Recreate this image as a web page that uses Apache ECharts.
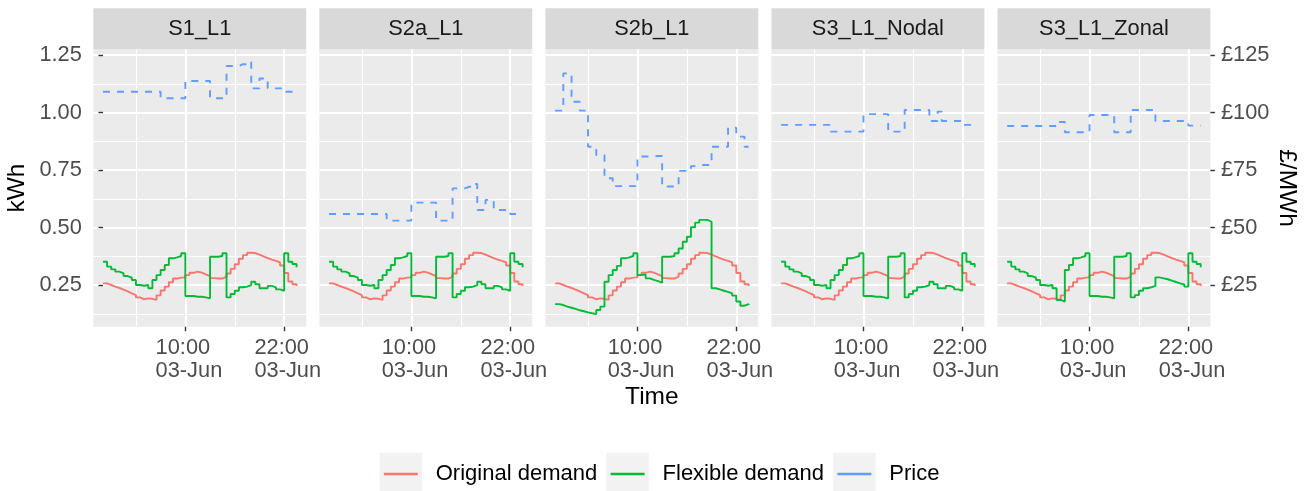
<!DOCTYPE html>
<html>
<head>
<meta charset="utf-8">
<title>Original vs flexible demand and price</title>
<script src="https://cdn.jsdelivr.net/npm/echarts@6/dist/echarts.min.js"></script>
<style>
  html, body { margin: 0; padding: 0; background: #ffffff; }
  #chart { width: 1314px; height: 491px; }
</style>
</head>
<body>
<div id="chart"></div>
<script>
// ---- data -------------------------------------------------------------
const panels = ['S1_L1', 'S2a_L1', 'S2b_L1', 'S3_L1_Nodal', 'S3_L1_Zonal'];

const times = ['00:00','00:30','01:00','01:30','02:00','02:30','03:00','03:30',
  '04:00','04:30','05:00','05:30','06:00','06:30','07:00','07:30',
  '08:00','08:30','09:00','09:30','10:00','10:30','11:00','11:30',
  '12:00','12:30','13:00','13:30','14:00','14:30','15:00','15:30',
  '16:00','16:30','17:00','17:30','18:00','18:30','19:00','19:30',
  '20:00','20:30','21:00','21:30','22:00','22:30','23:00','23:30'];
const dateLabel = '03-Jun';

const timeTicks = ['10:00', '22:00'];
const timeMinorTicks = ['04:00', '16:00'];
const kwhTicks = [0.25, 0.5, 0.75, 1.0, 1.25];
const kwhMinorTicks = [0.125, 0.375, 0.625, 0.875, 1.125];
const priceTicks = [25, 50, 75, 100, 125];

// kWh per half hour, same household in every scenario
const originalDemand = [0.257,0.250,0.243,0.237,0.230,0.222,0.214,0.206,0.196,0.188,
  0.192,0.190,0.185,0.205,0.226,0.243,0.262,0.278,0.282,0.283,
  0.293,0.303,0.308,0.304,0.296,0.289,0.280,0.278,0.278,0.286,
  0.300,0.320,0.340,0.364,0.380,0.390,0.389,0.382,0.374,0.367,
  0.360,0.355,0.348,0.335,0.302,0.265,0.253,0.246];

// kWh per half hour after shifting load
const flexS1 = [0.351,0.330,0.318,0.308,0.301,0.289,0.282,0.272,0.250,0.247,
  0.250,0.236,0.272,0.293,0.315,0.337,0.366,0.370,0.376,0.388,
  0.202,0.202,0.199,0.199,0.196,0.192,0.373,0.373,0.376,0.388,
  0.196,0.211,0.225,0.240,0.243,0.250,0.264,0.253,0.236,0.236,
  0.246,0.240,0.231,0.225,0.388,0.351,0.341,0.327];
const flexS2a = [0.351,0.330,0.318,0.308,0.301,0.289,0.282,0.272,0.250,0.247,
  0.250,0.236,0.272,0.293,0.315,0.337,0.366,0.370,0.376,0.388,
  0.202,0.202,0.199,0.199,0.196,0.192,0.373,0.373,0.376,0.388,
  0.196,0.211,0.225,0.240,0.243,0.250,0.264,0.253,0.236,0.236,
  0.246,0.240,0.231,0.225,0.388,0.351,0.341,0.327];
const flexS2b = [0.167,0.163,0.156,0.151,0.146,0.140,0.136,0.131,0.127,0.1235,
  0.141,0.156,0.264,0.293,0.315,0.333,0.366,0.370,0.376,0.388,
  0.293,0.296,0.279,0.272,0.267,0.260,0.373,0.373,0.376,0.388,
  0.409,0.438,0.460,0.501,0.521,0.533,0.533,0.525,0.236,0.231,
  0.225,0.220,0.214,0.204,0.178,0.160,0.167,0.163];
const flexS3Nodal = [0.351,0.330,0.318,0.308,0.301,0.289,0.282,0.272,0.250,0.247,
  0.250,0.236,0.272,0.293,0.315,0.337,0.366,0.370,0.376,0.388,
  0.202,0.202,0.199,0.199,0.196,0.192,0.373,0.373,0.376,0.388,
  0.196,0.211,0.225,0.240,0.243,0.250,0.264,0.253,0.236,0.236,
  0.246,0.240,0.231,0.225,0.388,0.351,0.341,0.327];
const flexS3Zonal = [0.351,0.330,0.318,0.308,0.301,0.289,0.282,0.272,0.250,0.247,
  0.250,0.236,0.185,0.178,0.315,0.337,0.366,0.370,0.376,0.388,
  0.202,0.202,0.199,0.199,0.196,0.192,0.373,0.373,0.376,0.388,
  0.196,0.206,0.225,0.236,0.240,0.246,0.283,0.279,0.275,0.269,
  0.263,0.257,0.253,0.243,0.388,0.351,0.341,0.327];

// £/MWh per half hour
const priceS1 = [109.0,109.0,109.0,109.0,109.0,109.0,109.0,109.0,109.0,109.0,
  109.0,109.0,109.0,109.0,106.2,106.2,106.2,106.2,106.2,106.2,
  113.7,113.7,113.7,113.7,113.7,113.7,106.2,106.2,106.2,106.2,
  120.2,120.2,120.2,121.0,121.0,122.0,110.5,110.5,114.8,114.8,
  110.5,110.5,110.5,110.5,109.0,109.0,109.0,109.0];
const priceS2a = [55.9,55.9,55.9,55.9,55.9,55.9,55.9,55.9,55.9,55.9,
  55.9,55.9,55.9,55.9,53.0,53.0,53.0,53.0,53.0,53.0,
  60.8,60.8,60.8,60.8,60.8,60.8,53.0,53.0,53.0,53.0,
  67.0,67.0,67.0,67.7,67.7,68.9,57.6,57.6,62.0,62.0,
  57.6,57.6,57.6,57.6,55.9,55.9,55.9,55.9];
const priceS2b = [100.8,100.8,117.0,117.0,104.7,104.7,100.8,100.8,85.1,85.1,
  81.5,81.5,71.4,71.4,68.0,68.0,68.0,68.0,68.0,68.0,
  80.9,80.9,80.9,80.9,81.1,81.1,67.8,67.8,67.8,67.8,
  74.6,74.6,74.6,76.7,76.7,77.2,77.2,77.2,85.1,85.1,
  85.1,85.1,93.4,93.4,89.5,89.5,85.1,85.1];
const priceS3Nodal = [94.6,94.6,94.6,94.6,94.6,94.6,94.6,94.6,94.6,94.6,
  94.6,94.6,91.7,91.7,91.7,91.7,91.7,91.7,91.7,91.7,
  99.3,99.3,99.3,99.3,99.3,99.3,91.7,91.7,91.7,91.7,
  101.1,101.1,101.1,101.1,101.1,101.1,96.3,96.3,100.4,96.3,
  96.3,96.3,96.3,96.3,94.6,94.6,94.6,94.6];
const priceS3Zonal = [94.1,94.1,94.1,94.1,94.1,94.1,94.1,94.1,94.1,94.1,
  94.1,94.1,95.9,95.9,91.4,91.4,91.4,91.4,91.4,91.4,
  98.9,98.9,98.9,98.9,98.9,98.9,91.4,91.4,91.4,91.4,
  101.1,101.1,101.1,101.1,101.1,101.1,96.3,96.3,96.3,96.3,
  96.3,96.3,96.3,96.3,94.3,94.3,94.3,94.3];

const flexible = [flexS1, flexS2a, flexS2b, flexS3Nodal, flexS3Zonal];
const prices = [priceS1, priceS2a, priceS2b, priceS3Nodal, priceS3Zonal];

// ---- layout & style ---------------------------------------------------
const FONT = '"Liberation Sans", Arial, Helvetica, sans-serif';
const SMALL = 21.8;    // tick labels, strip labels, legend text
const TITLE = 24.5;    // axis titles
const COL_ORIG = '#F8766D', COL_FLEX = '#00BA38', COL_PRICE = '#619CFF';
const PANEL_LEFT = 93.3, PANEL_STEP = 226.05, PANEL_W = 212.9;
const PANEL_TOP = 49.3, PANEL_H = 277.4;
const STRIP_TOP = 8.3, STRIP_H = 41;
const X_MIN = -1.175, X_MAX = 24.675;       // hours, padded around the day
const KWH_MIN = 0.0687, KWH_MAX = 1.2748;   // padded kWh range
const PRICE_PER_KWH = 100;                  // secondary axis: £/MWh = kWh x 100

const toHours = t => { const [h, m] = t.split(':').map(Number); return h + m / 60; };
const hours = times.map(toHours);
const pad2 = n => String(n).padStart(2, '0');
const hhmm = h => pad2(Math.floor(h + 1e-9)) + ':' + pad2(Math.round((h - Math.floor(h + 1e-9)) * 60));
const pairs = arr => arr.map((v, k) => [hours[k], v]);

const grids = [], xAxes = [], yAxes = [], series = [], graphics = [];

panels.forEach((name, i) => {
  const left = PANEL_LEFT + i * PANEL_STEP;
  const box = { left: left, top: PANEL_TOP, width: PANEL_W, height: PANEL_H };
  // back grid: panel background and minor grid lines
  grids.push(Object.assign({ show: true, backgroundColor: '#EBEBEB', borderWidth: 0 }, box));
  // front grid: major grid lines, axes and lines
  grids.push(Object.assign({ show: false }, box));
});

// axes for back grids (indices 0..4)
panels.forEach((name, i) => {
  xAxes[i] = {
    type: 'value', gridIndex: 2 * i, min: X_MIN, max: X_MAX, z: 0,
    axisLine: { show: false },
    axisTick: { show: false, customValues: timeMinorTicks.map(toHours) },
    axisLabel: { show: false, customValues: timeMinorTicks.map(toHours) },
    splitLine: { show: true, lineStyle: { color: '#FFFFFF', width: 1.05 } }
  };
  yAxes[i] = {
    type: 'value', gridIndex: 2 * i, min: KWH_MIN, max: KWH_MAX, z: 0,
    axisLine: { show: false },
    axisTick: { show: false, customValues: kwhMinorTicks },
    axisLabel: { show: false, customValues: kwhMinorTicks },
    splitLine: { show: true, lineStyle: { color: '#FFFFFF', width: 1.05 } }
  };
});

// axes, lines and strips for front grids
panels.forEach((name, i) => {
  const gi = 2 * i + 1;
  xAxes[5 + i] = {
    type: 'value', gridIndex: gi, min: X_MIN, max: X_MAX, z: 1,
    axisLine: { show: false },
    axisTick: { show: true, length: 4.5, customValues: timeTicks.map(toHours),
      lineStyle: { color: '#333333', width: 1.4 } },
    axisLabel: {
      show: true, customValues: timeTicks.map(toHours), margin: 10.5,
      color: '#4D4D4D', fontSize: SMALL, fontFamily: FONT, lineHeight: 22.3,
      padding: [0, 0, 0, 7.2],
      formatter: v => hhmm(v) + '  \n' + dateLabel
    },
    splitLine: { show: true, lineStyle: { color: '#FFFFFF', width: 2.1 } }
  };
  yAxes[5 + i] = {
    type: 'value', gridIndex: gi, position: 'left', min: KWH_MIN, max: KWH_MAX, z: 1,
    axisLine: { show: false },
    axisTick: { show: i === 0, length: 4.5, customValues: kwhTicks,
      lineStyle: { color: '#333333', width: 1.4 } },
    axisLabel: {
      show: i === 0, customValues: kwhTicks, margin: 11.5,
      color: '#4D4D4D', fontSize: SMALL, fontFamily: FONT,
      formatter: v => v.toFixed(2)
    },
    splitLine: { show: true, lineStyle: { color: '#FFFFFF', width: 2.1 } }
  };
  yAxes[10 + i] = {
    type: 'value', gridIndex: gi, position: 'right',
    min: KWH_MIN * PRICE_PER_KWH, max: KWH_MAX * PRICE_PER_KWH, z: 1,
    axisLine: { show: false },
    axisTick: { show: i === 4, length: 4.5, customValues: priceTicks,
      lineStyle: { color: '#333333', width: 1.4 } },
    axisLabel: {
      show: i === 4, customValues: priceTicks, margin: 10.5,
      color: '#4D4D4D', fontSize: SMALL, fontFamily: FONT,
      formatter: v => '£' + v
    },
    splitLine: { show: false }
  };

  const common = { type: 'line', step: 'end', showSymbol: false, symbol: 'none',
    xAxisIndex: 5 + i, silent: true, emphasis: { disabled: true } };
  series.push(Object.assign({}, common, {
    name: 'Original demand', yAxisIndex: 5 + i, color: COL_ORIG,
    lineStyle: { color: COL_ORIG, width: 1.9 }, data: pairs(originalDemand)
  }));
  series.push(Object.assign({}, common, {
    name: 'Flexible demand', yAxisIndex: 5 + i, color: COL_FLEX,
    lineStyle: { color: COL_FLEX, width: 1.9 }, data: pairs(flexible[i])
  }));
  series.push(Object.assign({}, common, {
    name: 'Price', yAxisIndex: 10 + i, color: COL_PRICE,
    lineStyle: { color: COL_PRICE, width: 1.9, type: [7, 7] }, data: pairs(prices[i])
  }));

  // facet strip
  const left = PANEL_LEFT + i * PANEL_STEP;
  graphics.push({ type: 'rect', silent: true, z: 0,
    shape: { x: left, y: STRIP_TOP, width: PANEL_W, height: STRIP_H },
    style: { fill: '#D9D9D9' } });
  graphics.push({ type: 'text', silent: true, z: 1,
    x: left + PANEL_W / 2, y: STRIP_TOP + STRIP_H / 2 + 0.5,
    style: { text: name, fill: '#1A1A1A', font: SMALL + 'px ' + FONT,
      textAlign: 'center', textVerticalAlign: 'middle' } });
});

// axis titles
const plotMidY = PANEL_TOP + PANEL_H / 2;
const plotMidX = (PANEL_LEFT + PANEL_LEFT + 4 * PANEL_STEP + PANEL_W) / 2;
graphics.push({ type: 'text', silent: true, x: 17, y: plotMidY, rotation: Math.PI / 2,
  style: { text: 'kWh', fill: '#000000', font: TITLE + 'px ' + FONT,
    textAlign: 'center', textVerticalAlign: 'middle' } });
graphics.push({ type: 'text', silent: true, x: 1287, y: plotMidY, rotation: -Math.PI / 2,
  style: { text: '£/MWh', fill: '#000000', font: TITLE + 'px ' + FONT,
    textAlign: 'center', textVerticalAlign: 'middle' } });
graphics.push({ type: 'text', silent: true, x: plotMidX, y: 397,
  style: { text: 'Time', fill: '#000000', font: TITLE + 'px ' + FONT,
    textAlign: 'center', textVerticalAlign: 'middle' } });

// legend keys: grey squares behind each legend line
const legendNames = ['Original demand', 'Flexible demand', 'Price'];
const legendKeyLeft = [379.6, 606.4, 833.2];
const KEY = 42.4, LEGEND_MID = 474;
legendKeyLeft.forEach(x => {
  graphics.push({ type: 'rect', silent: true, z: 0,
    shape: { x: x, y: LEGEND_MID - KEY / 2, width: KEY, height: KEY },
    style: { fill: '#F2F2F2' } });
});

const legends = legendNames.map((n, k) => ({
  data: [n], left: legendKeyLeft[k] + KEY * 0.1, top: LEGEND_MID - 13,
  orient: 'horizontal', padding: 0, icon: 'rect',
  itemWidth: KEY * 0.8, itemHeight: 2.6, selectedMode: false,
  textStyle: { fontSize: 22, fontFamily: FONT, color: '#000000',
    lineHeight: 26, padding: [0, 0, 0, 13] }
}));

const chart = echarts.init(document.getElementById('chart'), null, { renderer: 'canvas' });
chart.setOption({
  animation: false,
  backgroundColor: '#FFFFFF',
  textStyle: { fontFamily: FONT },
  grid: grids,
  xAxis: xAxes,
  yAxis: yAxes,
  legend: legends,
  series: series,
  graphic: graphics
});
</script>
</body>
</html>
